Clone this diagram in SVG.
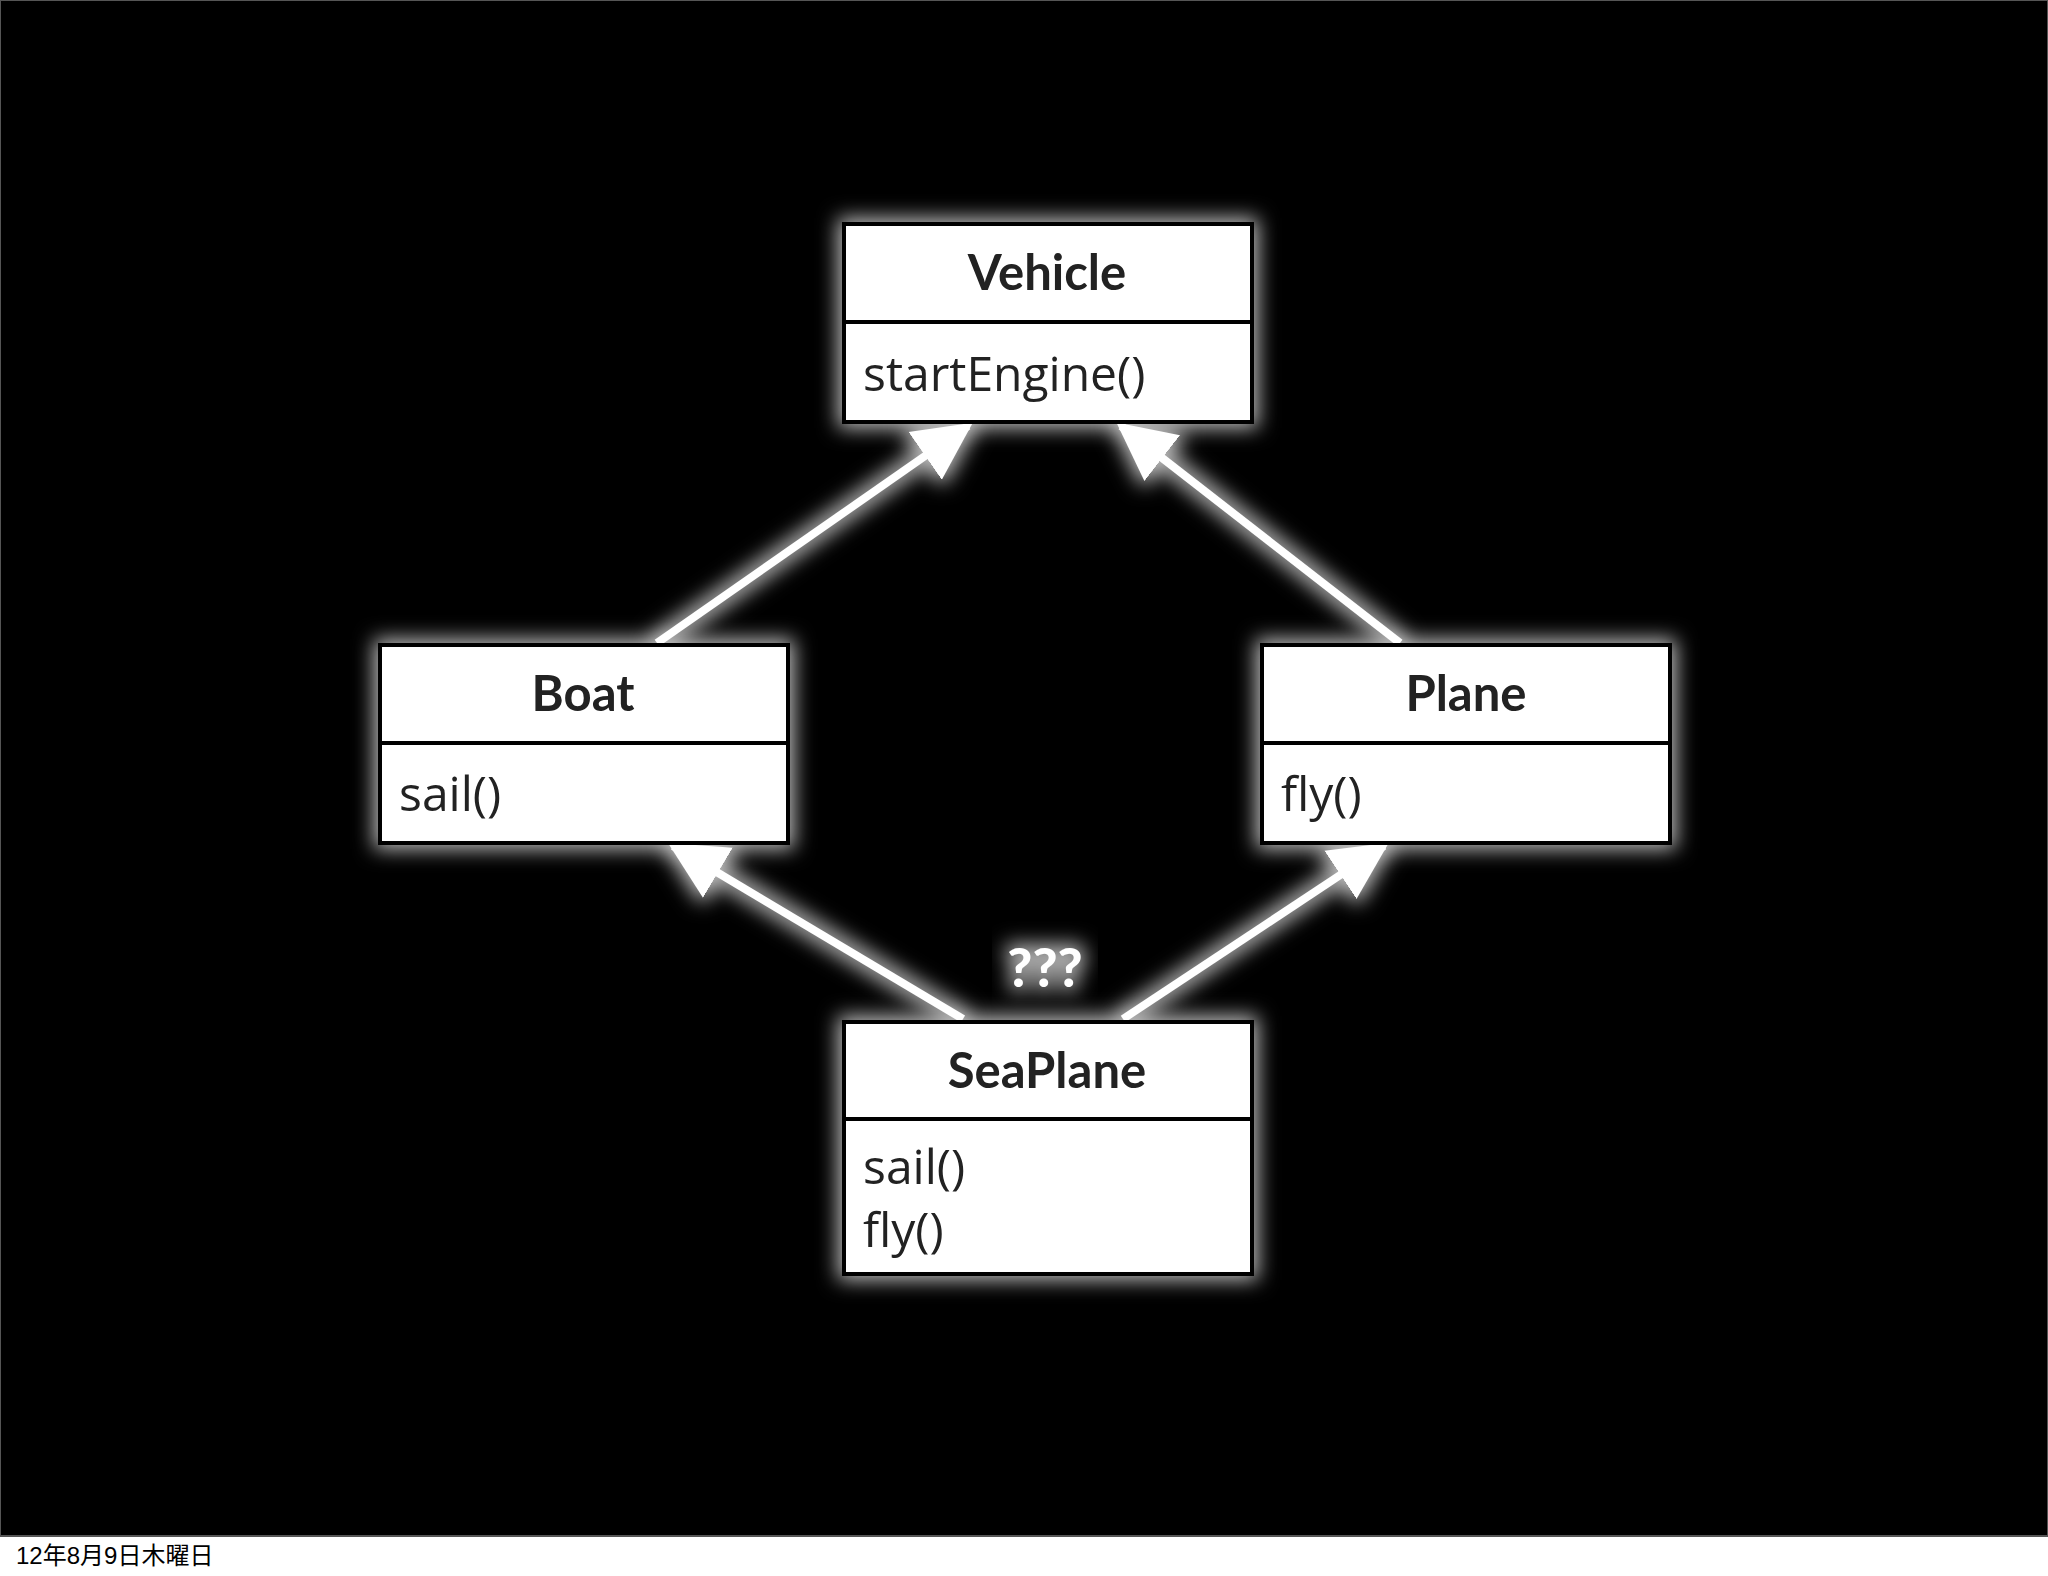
<svg xmlns="http://www.w3.org/2000/svg" width="2048" height="1576" viewBox="0 0 2048 1576">
<defs>
<filter id="glow" x="-20%" y="-20%" width="140%" height="140%">
<feMorphology in="SourceAlpha" operator="dilate" radius="4" result="d"/>
<feGaussianBlur in="d" stdDeviation="10" result="b"/>
<feFlood flood-color="#fff" flood-opacity="0.75"/>
<feComposite in2="b" operator="in" result="g"/>
<feMerge><feMergeNode in="g"/><feMergeNode in="SourceGraphic"/></feMerge>
</filter>
<marker id="arr" viewBox="0 0 10 10" refX="9" refY="5" markerUnits="userSpaceOnUse" markerWidth="58" markerHeight="66" orient="auto">
<path d="M0,0 L10,5 L0,10 Z" fill="#fff"/>
</marker>
<style>
.box{fill:#fff;stroke:#000;stroke-width:4}
.div{stroke:#000;stroke-width:4}
.t{font-family:Lato,"Open Sans",sans-serif;font-weight:bold;font-size:49px;fill:#222;text-anchor:middle}
.m{font-family:"Open Sans",Lato,sans-serif;font-size:48px;fill:#222}
.c{stroke:#fff;stroke-width:8;fill:none;marker-end:url(#arr)}
</style>
</defs>
<rect width="2048" height="1576" fill="#fff"/>
<rect x="0" y="0" width="2048" height="1536" fill="#000" stroke="#555" stroke-width="2"/>
<g id="connectors" filter="url(#glow)">
<line class="c" x1="657" y1="643" x2="968" y2="426"/>
<line class="c" x1="1400" y1="643" x2="1121" y2="426"/>
<line class="c" x1="963" y1="1019" x2="673" y2="846"/>
<line class="c" x1="1123" y1="1019" x2="1384" y2="846"/>
</g>
<g id="vehicle" filter="url(#glow)">
<rect class="box" x="844" y="224" width="408" height="198"/>
<line class="div" x1="844" y1="322" x2="1252" y2="322"/>
<text class="t" x="1047" y="290">Vehicle</text>
<text class="m" x="863" y="391">startEngine()</text>
</g>
<g id="boat" filter="url(#glow)">
<rect class="box" x="380" y="645" width="408" height="198"/>
<line class="div" x1="380" y1="743" x2="788" y2="743"/>
<text class="t" x="583" y="711">Boat</text>
<text class="m" x="399" y="811">sail()</text>
</g>
<g id="plane" filter="url(#glow)">
<rect class="box" x="1262" y="645" width="408" height="198"/>
<line class="div" x1="1262" y1="743" x2="1670" y2="743"/>
<text class="t" x="1466" y="711">Plane</text>
<text class="m" x="1281" y="811">fly()</text>
</g>
<g id="seaplane" filter="url(#glow)">
<rect class="box" x="844" y="1022" width="408" height="252"/>
<line class="div" x1="844" y1="1119" x2="1252" y2="1119"/>
<text class="t" x="1047" y="1088">SeaPlane</text>
<text class="m" x="863" y="1184">sail()</text>
<text class="m" x="863" y="1247">fly()</text>
</g>
<text x="1045" y="987" font-family="Lato,'Open Sans',sans-serif" font-weight="900" font-size="54" fill="#fff" text-anchor="middle" filter="url(#glow)">???</text>
<text x="16" y="1564" font-family="'Liberation Sans','Noto Sans CJK JP',sans-serif" font-size="24" fill="#000">12年8月9日木曜日</text>
</svg>
